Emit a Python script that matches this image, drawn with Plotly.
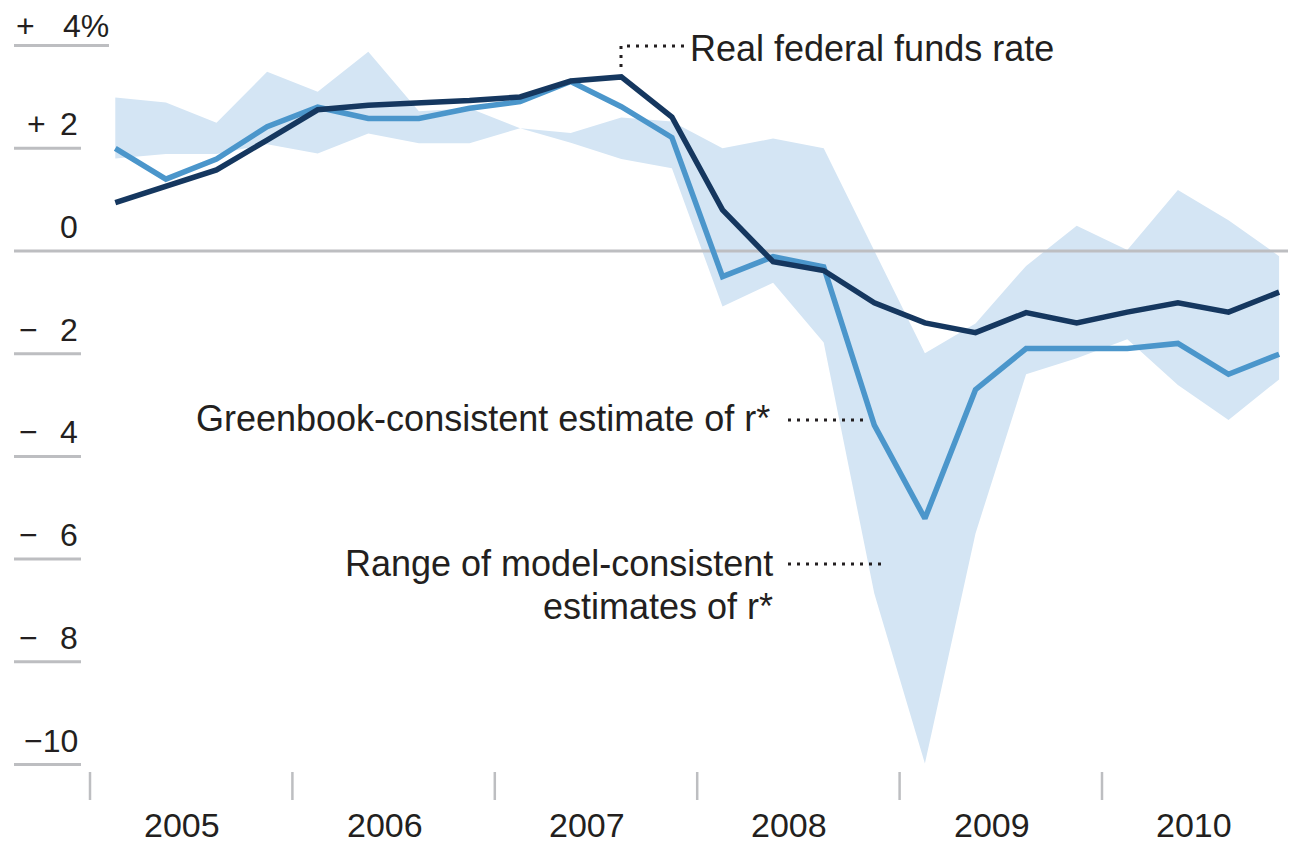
import plotly.graph_objects as go

# ---------------- data (quarterly, 2005Q1 .. 2010Q4) ----------------
years = ["2005", "2006", "2007", "2008", "2009", "2010"]
quarters = [f"{y} Q{q}" for y in years for q in range(1, 5)]

real_ffr = [0.94, 1.25, 1.58, 2.16, 2.75, 2.84, 2.88, 2.93, 3.00, 3.31, 3.39, 2.61,
            0.80, -0.21, -0.38, -1.01, -1.40, -1.59, -1.20, -1.40, -1.19, -1.01, -1.19, -0.80]

greenbook = [2.00, 1.40, 1.79, 2.42, 2.80, 2.58, 2.58, 2.78, 2.91, 3.30, 2.81, 2.21,
             -0.50, -0.11, -0.31, -3.39, -5.21, -2.70, -1.90, -1.90, -1.90, -1.80, -2.40, -2.01]

band_upper = [2.99, 2.89, 2.50, 3.49, 3.10, 3.88, 2.72, 2.78, 2.39, 2.30, 2.60, 2.52,
              2.00, 2.19, 2.00, 0.00, -1.99, -1.41, -0.29, 0.49, 0.02, 1.19, 0.60, -0.10]
band_lower = [1.80, 1.89, 1.89, 2.08, 1.90, 2.29, 2.10, 2.10, 2.39, 2.11, 1.79, 1.61,
              -1.08, -0.62, -1.78, -6.67, -9.98, -5.50, -2.40, -2.09, -1.72, -2.61, -3.29, -2.50]

y_ticks = [4, 2, 0, -2, -4, -6, -8, -10]
y_signs = ["+", "+", "", "\u2212", "\u2212", "\u2212", "\u2212", ""]
y_nums = ["4%", "2", "0", "2", "4", "6", "8", "\u221210"]

# ---------------- styling / layout helpers ----------------
PAGE_OFF = 8                 # default body margin of the html page
W, H = 1296 - PAGE_OFF, 843 - PAGE_OFF
X0PX, DXPX = 115.3, 50.6     # page pixel of first quarter, pixels per quarter
Y0PX, DYPX = 251.0, 51.35    # page pixel of zero, pixels per unit


def px2x(px):
    return (px - X0PX) / DXPX


def px2y(py):
    return (Y0PX - py) / DYPX


DARK = "#15375f"
LIGHT = "#4b96cb"
BAND = "#d4e5f4"
GRAY = "#bdbec1"
TEXT = "#231f20"
FONT = "Liberation Sans, Arial, Helvetica, sans-serif"

xi = list(range(len(quarters)))

fig = go.Figure()

fig.add_trace(go.Scatter(x=xi, y=band_lower, mode="lines", line=dict(width=0, color=BAND),
                         hoverinfo="skip", showlegend=False))
fig.add_trace(go.Scatter(x=xi, y=band_upper, mode="lines", line=dict(width=0, color=BAND),
                         fill="tonexty", fillcolor=BAND, hoverinfo="skip", showlegend=False,
                         name="Range of model-consistent estimates of r*"))
# zero line (above the band, below the series)
fig.add_trace(go.Scatter(x=[px2x(14), px2x(1296)], y=[0, 0], mode="lines",
                         line=dict(color=GRAY, width=3), hoverinfo="skip", showlegend=False))
fig.add_trace(go.Scatter(x=xi, y=greenbook, mode="lines", line=dict(color=LIGHT, width=5.5),
                         showlegend=False, name="Greenbook-consistent estimate of r*"))
fig.add_trace(go.Scatter(x=xi, y=real_ffr, mode="lines", line=dict(color=DARK, width=5.5),
                         showlegend=False, name="Real federal funds rate"))

shapes = []
annotations = []

# y-axis labels with underlines
sign_left = {4: 14, 2: 25}
for v, s, n in zip(y_ticks, y_signs, y_nums):
    if v != 0:
        right = 109 if v == 4 else 81
        shapes.append(dict(type="line", xref="x", yref="y", x0=px2x(14), x1=px2x(right),
                           y0=v, y1=v, line=dict(color=GRAY, width=3)))
    yc = v + (20 if v == 4 else 24) / DYPX
    if s:
        annotations.append(dict(x=px2x(sign_left.get(v, 17)), y=yc, xref="x", yref="y", text=s,
                                showarrow=False, xanchor="left", yanchor="middle",
                                font=dict(family=FONT, size=32, color=TEXT)))
    annotations.append(dict(x=px2x(111 if v == 4 else 80), y=yc, xref="x", yref="y", text=n,
                            showarrow=False, xanchor="right", yanchor="middle",
                            font=dict(family=FONT, size=32, color=TEXT)))

# x-axis year ticks and labels
for k in range(len(years)):
    bx = 4 * k - 0.5
    shapes.append(dict(type="line", xref="x", yref="y", x0=bx, x1=bx,
                       y0=px2y(772), y1=px2y(800), line=dict(color=GRAY, width=2.5)))
for k, yr in enumerate(years):
    annotations.append(dict(x=4 * k + 1.5 - 9 / DXPX, y=px2y(825), xref="x", yref="y",
                            text=yr, showarrow=False, xanchor="center", yanchor="middle",
                            font=dict(family=FONT, size=34, color=TEXT)))

# callouts
DOT = dict(color="#231f20", width=3, dash="3px,6px")
shapes.append(dict(type="line", xref="x", yref="y", x0=px2x(621), x1=px2x(621),
                   y0=px2y(46), y1=px2y(69), line=DOT))
shapes.append(dict(type="line", xref="x", yref="y", x0=px2x(627), x1=px2x(685),
                   y0=px2y(46), y1=px2y(46), line=DOT))
annotations.append(dict(x=px2x(688), y=px2y(48), xref="x", yref="y",
                        text="Real federal funds rate", showarrow=False,
                        xanchor="left", yanchor="middle",
                        font=dict(family=FONT, size=36, color=TEXT)))

shapes.append(dict(type="line", xref="x", yref="y", x0=px2x(788), x1=px2x(866),
                   y0=px2y(420), y1=px2y(420), line=DOT))
annotations.append(dict(x=px2x(772), y=px2y(418), xref="x", yref="y",
                        text="Greenbook-consistent estimate of r*", showarrow=False,
                        xanchor="right", yanchor="middle",
                        font=dict(family=FONT, size=36, color=TEXT)))

shapes.append(dict(type="line", xref="x", yref="y", x0=px2x(788), x1=px2x(886),
                   y0=px2y(564), y1=px2y(564), line=DOT))
annotations.append(dict(x=px2x(775), y=px2y(563), xref="x", yref="y",
                        text="Range of model-consistent", showarrow=False,
                        xanchor="right", yanchor="middle",
                        font=dict(family=FONT, size=36, color=TEXT)))
annotations.append(dict(x=px2x(775), y=px2y(606), xref="x", yref="y",
                        text="estimates of r*", showarrow=False,
                        xanchor="right", yanchor="middle",
                        font=dict(family=FONT, size=36, color=TEXT)))

fig.update_layout(
    width=W, height=H,
    margin=dict(l=0, r=0, t=0, b=0, pad=0),
    paper_bgcolor="white", plot_bgcolor="white",
    xaxis=dict(visible=False, range=[px2x(PAGE_OFF), px2x(1296)], fixedrange=True),
    yaxis=dict(visible=False, range=[px2y(843), px2y(PAGE_OFF)], fixedrange=True),
    shapes=shapes, annotations=annotations,
    showlegend=False,
)

fig.write_html("out.html")
